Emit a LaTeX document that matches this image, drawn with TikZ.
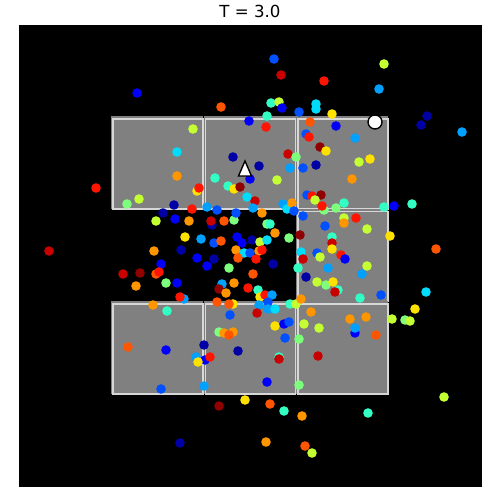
\documentclass[tikz,border=0pt]{standalone}
\usepackage{fontspec}
\setmainfont{DejaVu Sans}
\usetikzlibrary{positioning}

% jet colour steps, dark blue to dark red
\definecolor{c0}{RGB}{0,0,165}
\definecolor{c1}{RGB}{0,0,250}
\definecolor{c2}{RGB}{0,80,255}
\definecolor{c3}{RGB}{0,160,255}
\definecolor{c4}{RGB}{0,220,250}
\definecolor{c5}{RGB}{50,255,195}
\definecolor{c6}{RGB}{125,255,125}
\definecolor{c7}{RGB}{195,255,50}
\definecolor{c8}{RGB}{255,225,0}
\definecolor{c9}{RGB}{255,150,0}
\definecolor{c10}{RGB}{255,85,0}
\definecolor{c11}{RGB}{255,20,0}
\definecolor{c12}{RGB}{200,0,0}
\definecolor{c13}{RGB}{145,0,0}
\definecolor{outline}{RGB}{215,215,215}

\tikzset{
    spot/.style={fill=#1},
    cellfill/.style={fill=gray},
    celledge/.style={draw=outline, line width=0.8pt},
}

\begin{document}
\begin{tikzpicture}[x=0.254mm, y=-0.254mm]
    \useasboundingbox (0,0) rectangle (500,500);
    % title and black field
    \node (title) at (250,11) {\fontsize{12}{14}\selectfont T = 3.0};
    \fill[black] (19,25) rectangle (482,487);
    % grey cells of the 3x3 grid (middle-left and centre left out)
    \foreach \i/\j in {0/0,1/0,2/0,2/1,0/2,1/2,2/2} {
        \fill[cellfill] ({111+92.5*\i},{116+92.5*\j}) rectangle ({203+92.5*\i},{209+92.5*\j});
        \draw[celledge] ({113+92.5*\i},{119+92.5*\j}) rectangle ({203+92.5*\i},{209+92.5*\j});
    }
    % particles
    \foreach \x/\y/\c in {
        274/59/c2, 281/75/c12, 324/81/c11, 384/64/c7, 137/93/c1, 379/89/c3,
        221/107/c10, 271/103/c5, 279/102/c7, 282/108/c1, 299/112/c2, 316/104/c4,
        316/109/c4, 332/114/c8, 267/116/c5, 249/121/c1, 266/127/c11, 310/122/c10,
        336/126/c1, 427/116/c0, 421/125/c0, 462/132/c3, 193/129/c7, 177/152/c4,
        177/176/c9, 306/134/c2, 309/137/c11, 355/138/c3, 320/147/c13, 326/151/c8,
        288/154/c12, 296/157/c6, 233/157/c0, 259/166/c0, 316/165/c0, 359/162/c7,
        370/159/c8, 290/168/c3, 303/168/c2, 250/179/c1, 215/178/c5, 228/186/c5,
        234/189/c8, 240/187/c13, 277/180/c7, 352/179/c9, 96/188/c11, 197/191/c8,
        199/188/c11, 139/199/c7, 127/204/c6, 247/197/c4, 255/201/c12, 253/208/c3,
        262/213/c9, 174/205/c0, 163/213/c0, 156/221/c7, 175/219/c1, 192/209/c11,
        189/221/c9, 207/207/c3, 217/210/c2, 212/225/c0, 211/221/c12, 224/221/c10,
        234/220/c6, 236/213/c2, 267/224/c6, 283/204/c3, 287/209/c4, 292/203/c9,
        294/211/c2, 307/195/c2, 312/196/c11, 321/195/c13, 315/200/c7, 324/210/c6,
        322/206/c11, 336/208/c6, 344/203/c5, 384/207/c5, 394/206/c1, 412/204/c5,
        303/216/c2, 344/218/c7, 344/223/c9, 356/218/c11, 325/226/c2, 367/229/c7,
        390/236/c8, 270/224/c5, 275/233/c9, 289/238/c6, 300/235/c13, 185/237/c8,
        201/239/c3, 214/243/c2, 221/241/c10, 237/237/c1, 242/243/c1, 252/240/c0,
        260/242/c7, 267/240/c4, 332/237/c5, 332/243/c12, 332/249/c8, 436/249/c10,
        49/251/c12, 154/251/c9, 181/250/c0, 236/250/c9, 244/253/c4, 250/253/c2,
        259/251/c9, 262/250/c11, 197/258/c1, 214/259/c0, 238/258/c10, 256/259/c11,
        301/252/c4, 303/259/c12, 317/253/c2, 320/257/c7, 341/255/c11, 345/259/c1,
        161/264/c1, 207/266/c1, 229/268/c6, 273/264/c0, 298/268/c5, 328/268/c3,
        367/266/c7, 123/274/c12, 140/273/c13, 156/274/c10, 159/272/c11, 253/274/c10,
        362/274/c3, 306/277/c0, 136/286/c9, 166/283/c6, 177/283/c1, 222/284/c3,
        234/283/c9, 219/289/c13, 226/293/c9, 248/288/c11, 258/290/c5, 260/297/c8,
        265/295/c11, 317/282/c7, 326/285/c6, 333/282/c8, 338/290/c5, 335/292/c12,
        360/298/c5, 381/295/c2, 426/292/c4, 184/299/c3, 180/297/c11, 153/305/c9,
        167/311/c5, 217/302/c10, 233/304/c8, 229/304/c10, 230/315/c2, 272/295/c3,
        259/305/c3, 268/302/c2, 268/309/c3, 275/309/c4, 257/313/c12, 290/304/c5,
        296/304/c7, 301/299/c9, 311/312/c9, 415/309/c8, 275/326/c8, 284/324/c1,
        289/322/c2, 304/324/c7, 319/328/c7, 350/319/c9, 366/317/c9, 355/333/c1,
        355/328/c3, 376/335/c10, 392/319/c7, 405/320/c6, 410/321/c7, 285/338/c2,
        299/339/c6, 219/332/c6, 233/332/c9, 224/333/c9, 229/335/c10, 128/347/c10,
        166/350/c1, 204/345/c0, 196/357/c3, 205/360/c1, 210/357/c11, 198/362/c8,
        238/351/c0, 279/357/c5, 279/359/c12, 318/356/c12, 161/389/c2, 204/386/c3,
        267/382/c1, 299/385/c6, 444/397/c7, 245/400/c8, 219/406/c13, 270/404/c10,
        284/411/c5, 302/416/c9, 368/413/c5, 180/443/c0, 266/442/c9, 305/446/c10,
        312/453/c7}
        \fill[spot=\c] (\x,\y) circle[radius=4.8];
    % start and goal markers
    \draw[fill=white, line width=1pt] (375,122) circle[radius=7];
    \draw[fill=white, line width=1pt, line join=miter] (245,161) -- (238.5,176) -- (251.5,176) -- cycle;
\end{tikzpicture}
\end{document}
